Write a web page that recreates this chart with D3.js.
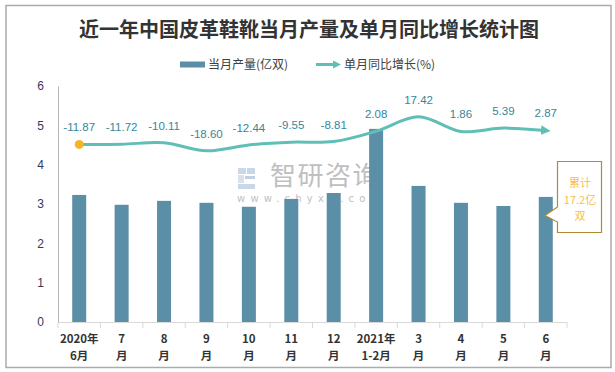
<!DOCTYPE html>
<html><head><meta charset="utf-8">
<script src="https://cdn.jsdelivr.net/npm/d3@7"></script>
<style>
html,body{margin:0;padding:0;background:#fff;}
svg{display:block;font-family:"Noto Sans CJK SC","Noto Sans",sans-serif;}
</style></head>
<body>
<svg id="c" width="615" height="372"></svg>
<script>
const categories = [["2020年","6月"],["7","月"],["8","月"],["9","月"],["10","月"],["11","月"],["12","月"],["2021年","1-2月"],["3","月"],["4","月"],["5","月"],["6","月"]];
const output = [3.23, 2.98, 3.08, 3.03, 2.93, 3.13, 3.28, 4.91, 3.46, 3.03, 2.95, 3.18];
const growth = [-11.87, -11.72, -10.11, -18.60, -12.44, -9.55, -8.81, 2.08, 17.42, 1.86, 5.39, 2.87];
const yTicks = [0,1,2,3,4,5,6];
const title = "近一年中国皮革鞋靴当月产量及单月同比增长统计图";
const legendLabels = ["当月产量(亿双)", "单月同比增长(%)"];
const noteLines = ["累计", "17.2亿", "双"];

const svg = d3.select("#c");
const barColor = "#5b8fa7", lineColor = "#5fbfb6", labelColor = "#35879a";

// outer border
svg.append("rect").attr("x",6).attr("y",5.5).attr("width",605).attr("height",362)
  .attr("fill","#fff").attr("stroke","#ababab").attr("stroke-width",1.5);

// title
svg.append("text").attr("x",309).attr("y",37).attr("text-anchor","middle")
  .attr("font-size",20).attr("font-weight","bold").attr("fill","#333").text(title);

// legend
svg.append("rect").attr("x",180).attr("y",61.5).attr("width",25).attr("height",6).attr("fill",barColor);
svg.append("text").attr("x",208).attr("y",69).attr("font-size",12).attr("fill","#404040").text(legendLabels[0]);
svg.append("line").attr("x1",316).attr("x2",334).attr("y1",64.5).attr("y2",64.5).attr("stroke",lineColor).attr("stroke-width",3);
svg.append("path").attr("d","M333,60.5 L341,64.5 L333,68.5 Z").attr("fill",lineColor);
svg.append("text").attr("x",344).attr("y",69).attr("font-size",12).attr("fill","#404040").text(legendLabels[1]);

// scales
const x = d3.scaleBand().domain(d3.range(categories.length)).range([58,567]).paddingInner(0.67).paddingOuter(0.335);
const step = x.step();
const y = d3.scaleLinear().domain([0,6]).range([322,86]);
const y2 = d3.scaleLinear().domain([-200,50]).range([322,86]);

// y axis
const yAxis = svg.append("g").attr("transform","translate(58,0)")
  .call(d3.axisLeft(y).tickValues(yTicks).tickSize(0).tickPadding(14).tickFormat(d3.format("d")));
yAxis.select(".domain").attr("stroke","#b5b5b5").attr("stroke-width",1);
yAxis.selectAll("text").attr("font-size",12).attr("fill","#2f3a5c").attr("font-family","Liberation Sans, Arial, sans-serif");

// watermark
const wm = svg.append("g").attr("opacity",0.55);
wm.append("rect").attr("x",238).attr("y",168).attr("width",8).attr("height",6).attr("fill","#9db7d6");
wm.append("rect").attr("x",247).attr("y",168).attr("width",8).attr("height",6).attr("fill","#9db7d6");
wm.append("rect").attr("x",238).attr("y",175).attr("width",6).attr("height",8).attr("fill","#b9c9dd");
wm.append("rect").attr("x",245).attr("y",176).attr("width",10).attr("height",3).attr("fill","#8aaad0");
wm.append("rect").attr("x",238).attr("y",184).attr("width",17).attr("height",5).attr("fill","#9db7d6");
wm.append("text").attr("x",270).attr("y",185).attr("font-size",26).attr("fill","#8c8c8c").attr("letter-spacing",1.5).text("智研咨询");
wm.append("text").attr("x",237).attr("y",202).attr("font-size",10).attr("fill","#8c8c8c").attr("letter-spacing",5.2).attr("font-family","DejaVu Sans, sans-serif").text("www.chyxx.com");

// bars
svg.append("g").selectAll("rect").data(output).join("rect")
  .attr("x",(d,i)=>x(i)).attr("width",x.bandwidth())
  .attr("y",d=>y(d)).attr("height",d=>y(0)-y(d)).attr("fill",barColor);

// x axis
const xg = svg.append("g");
xg.append("line").attr("x1",58).attr("x2",567).attr("y1",322.5).attr("y2",322.5).attr("stroke","#d9d9d9").attr("stroke-width",1);
xg.selectAll("line.t").data(d3.range(categories.length+1)).join("line").attr("class","t")
  .attr("x1",i=>58+i*step).attr("x2",i=>58+i*step).attr("y1",322).attr("y2",328)
  .attr("stroke","#d9d9d9");
[0,1].forEach(k => {
  xg.selectAll("text.l"+k).data(categories).join("text").attr("class","l"+k)
    .attr("text-anchor","middle").attr("font-size",11.5).attr("font-weight","bold").attr("fill","#333")
    .attr("x",(d,i)=>x(i)+x.bandwidth()/2).attr("y",k===0?342.5:359.5).text(d=>d[k]);
});

// line
const cx = i => x(i)+x.bandwidth()/2;
svg.append("defs").append("marker").attr("id","arr").attr("viewBox","0 0 10 10")
  .attr("refX",5).attr("refY",5).attr("markerWidth",3.2).attr("markerHeight",3.2)
  .attr("orient","auto").attr("markerUnits","strokeWidth")
  .append("path").attr("d","M0,0 L10,5 L0,10 Z").attr("fill",lineColor);
const line = d3.line().x((d,i)=>cx(i)).y(d=>y2(d)).curve(d3.curveCatmullRom.alpha(0.5));
svg.append("path").datum(growth).attr("d",line).attr("fill","none")
  .attr("stroke",lineColor).attr("stroke-width",3).attr("marker-end","url(#arr)");
svg.append("circle").attr("cx",cx(0)).attr("cy",y2(growth[0])).attr("r",4.5).attr("fill","#f5b427");

// labels
svg.append("g").selectAll("text").data(growth).join("text")
  .attr("x",(d,i)=>cx(i)).attr("y",d=>y2(d)-13).attr("text-anchor","middle")
  .attr("font-size",11.5).attr("fill",labelColor).attr("font-family","Liberation Sans, Arial, sans-serif")
  .text(d=>d.toFixed(2));

// callout
svg.append("path").attr("d","M557.5,161.5 L601.5,161.5 L601.5,232.5 L557.5,232.5 L557.5,222 L545,215.5 L557.5,207 Z")
  .attr("fill","#fff").attr("stroke","#b08a33").attr("stroke-width",1.2);
svg.append("g").selectAll("text").data(noteLines).join("text")
  .attr("x",580).attr("y",(d,i)=>187+i*16.5).attr("text-anchor","middle")
  .attr("font-size",11).attr("fill","#f4c04f").text(d=>d);
</script>
</body></html>
